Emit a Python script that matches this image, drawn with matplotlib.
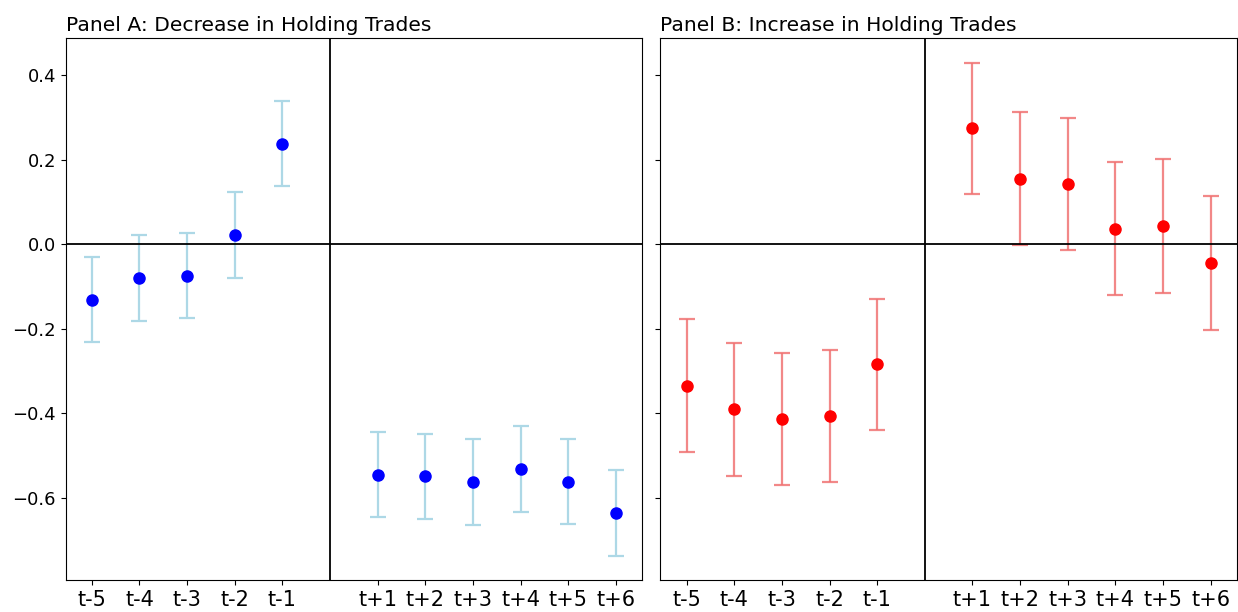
import numpy as np
import matplotlib
matplotlib.use("Agg")
import matplotlib.pyplot as plt

# event-time labels; column at x=5 is left empty for the event line
pre_labels = ["t-5", "t-4", "t-3", "t-2", "t-1"]
post_labels = ["t+1", "t+2", "t+3", "t+4", "t+5", "t+6"]
pre_x = [0, 1, 2, 3, 4]
post_x = [6, 7, 8, 9, 10, 11]

# Panel A: decrease in holding trades
dec_coef = [-0.131, -0.080, -0.074, 0.022, 0.238,
            -0.545, -0.549, -0.562, -0.531, -0.561, -0.635]
dec_err = [0.101, 0.101, 0.101, 0.101, 0.101,
           0.101, 0.101, 0.101, 0.101, 0.101, 0.101]

# Panel B: increase in holding trades
inc_coef = [-0.334, -0.390, -0.412, -0.405, -0.284,
            0.275, 0.155, 0.142, 0.037, 0.043, -0.044]
inc_err = [0.158, 0.157, 0.156, 0.156, 0.155,
           0.155, 0.157, 0.156, 0.157, 0.158, 0.158]

xs = pre_x + post_x
labels = pre_labels + post_labels

fig, axes = plt.subplots(1, 2, figsize=(12.38, 6.12), dpi=100, sharey=True)
fig.subplots_adjust(left=0.053, right=0.999, top=0.938, bottom=0.052, wspace=0.032)

panels = [
    (axes[0], dec_coef, dec_err, "blue", "lightblue", "Panel A: Decrease in Holding Trades"),
    (axes[1], inc_coef, inc_err, "red", (0.94, 0.45, 0.45, 0.85), "Panel B: Increase in Holding Trades"),
]
for ax, coef, err, mc, ec, title in panels:
    ax.errorbar(xs, coef, yerr=err, fmt="o", color=mc, ecolor=ec,
                elinewidth=1.6, capsize=6, capthick=1.6, markersize=8)
    ax.axhline(0, color="black", lw=1.3)
    ax.axvline(5, color="black", lw=1.3)
    ax.set_xlim(-0.55, 11.55)
    ax.set_xticks(xs)
    ax.set_xticklabels(labels)
    ax.tick_params(axis="x", labelsize=15)
    ax.tick_params(axis="y", labelsize=13)
    ax.set_title(title, loc="left", fontsize=14.6, pad=5)

fig.savefig("out.png")
